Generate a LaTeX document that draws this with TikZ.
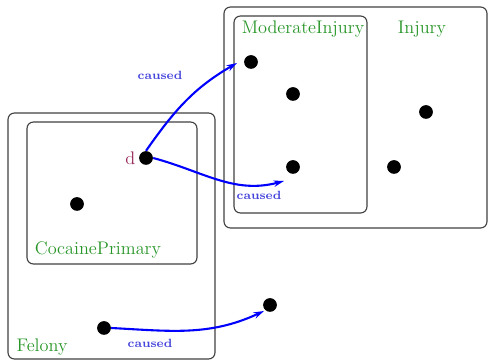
\documentclass[tikz,border=0pt]{standalone}
\usepackage{tikz}
\usetikzlibrary{arrows.meta, positioning}
\definecolor{set_green}{RGB}{40,150,40}
\definecolor{elem_red}{RGB}{150,40,90}
\definecolor{rel_blue}{RGB}{70,70,220}
\tikzset{
    setbox/.style={draw=black!75, line width=0.7pt, rounded corners=4pt},
    setlabel/.style={text=set_green, inner sep=1pt, font=\fontsize{11.3}{13}\selectfont},
    elem/.style={circle, fill=black, minimum size=8.5pt, inner sep=0pt},
    rel/.style={blue, line width=1.3pt, -{Stealth[length=6.5pt, width=4pt]}},
    rellabel/.style={text=rel_blue, font=\fontsize{7.4}{9}\selectfont\bfseries, inner sep=1pt}
}

\begin{document}
\begin{tikzpicture}[x=0.62pt, y=-0.62pt]
        \useasboundingbox (0,0) rectangle (488,360);

        % Sets
        \draw[setbox] (224,7) rectangle (487,228);
        \draw[setbox] (234,16) rectangle (367,213);
        \draw[setbox] (8,113) rectangle (215,359);
        \draw[setbox] (27,122) rectangle (197,264);

        \node (Injury_label) [setlabel] at (422,29) {Injury};
        \node (MI_label) [setlabel] at (303,29) {ModerateInjury};
        \node (CP_label) [setlabel] at (98,250) {CocainePrimary};
        \node (Felony_label) [setlabel] at (42,347) {Felony};

        % Elements
        \node (d) [elem] at (146,158) {};
        \node (d_label) [left=2pt of d, text=elem_red, inner sep=0pt, font=\fontsize{11.3}{13}\selectfont] {d};
        \node (cp2) [elem] at (77,204) {};
        \node (f1) [elem] at (104,328) {};
        \node (x1) [elem] at (270,305) {};
        \node (mi1) [elem] at (251,62) {};
        \node (mi2) [elem] at (293,94) {};
        \node (mi3) [elem] at (293,167) {};
        \node (inj1) [elem] at (426,112) {};
        \node (inj2) [elem] at (394,167) {};

        \coordinate (mi1_in) at (237,63);
        \coordinate (mi3_in) at (284,181);
        \coordinate (x1_in) at (264,311);

        % Relations
        \draw[rel] (d.north) to[out=55, in=210] (mi1_in);
        \draw[rel] (d.east) to[out=-15, in=195] (mi3_in);
        \draw[rel] (f1.east) to[out=-3, in=205] (x1_in);

        \node (c1) [rellabel] at (160,75) {caused};
        \node (c2) [rellabel] at (259,195) {caused};
        \node (c3) [rellabel] at (150,343) {caused};

    \end{tikzpicture}
\end{document}
